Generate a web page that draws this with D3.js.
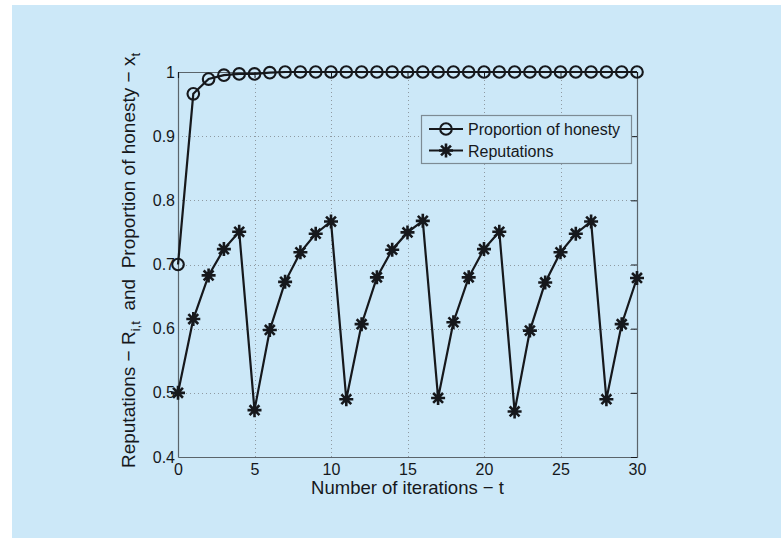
<!DOCTYPE html>
<html>
<head>
<meta charset="utf-8">
<script src="https://cdn.jsdelivr.net/npm/d3@7"></script>
<style>
  body { margin: 0; background: #fff; }
  svg { display: block; font-family: "Liberation Sans", Arial, sans-serif; }
</style>
</head>
<body>
<div id="chart"></div>
<script>
// --- data ---
const iterations = d3.range(0, 31)
const honesty = [0.700, 0.966, 0.989, 0.995, 0.997, 0.997, 0.999, 1, 1, 1, 1,
  1, 1, 1, 1, 1, 1, 1, 1, 1, 1, 1, 1, 1, 1, 1, 1, 1, 1, 1, 1]
const reputations = [0.500, 0.615, 0.683, 0.724, 0.751, 0.473, 0.598, 0.673, 0.719, 0.748, 0.767,
  0.490, 0.607, 0.680, 0.723, 0.750, 0.768, 0.492, 0.610, 0.680, 0.724,
  0.751, 0.471, 0.597, 0.672, 0.719, 0.748, 0.767, 0.490, 0.607, 0.679]
const xTicks = [0, 5, 10, 15, 20, 25, 30]
const yTicks = [0.4, 0.5, 0.6, 0.7, 0.8, 0.9, 1]
const legendLabels = ['Proportion of honesty', 'Reputations']

const width = 781
const height = 538
const margin = {left: 178, right: 144, top: 72, bottom: 81}
const ink = '#16181c'
const axisColor = '#5a646b'
const bg = '#cce8f8'

const svg = d3.select('#chart').append('svg')
  .attr('width', width)
  .attr('height', height)

svg.append('rect')
  .attr('x', 12).attr('y', 5)
  .attr('width', width - 12).attr('height', height - 5)
  .attr('fill', bg)

const x = d3.scaleLinear().domain([0, 30]).range([margin.left, width - margin.right])
const y = d3.scaleLinear().domain([0.4, 1]).range([height - margin.bottom, margin.top])

// --- grid ---
const grid = svg.append('g')
  .attr('stroke', '#8f9aa2')
  .attr('stroke-width', 1)
  .attr('stroke-dasharray', '1,3')
grid.selectAll('.gx').data(xTicks.slice(1, -1)).join('line')
  .attr('x1', d => Math.round(x(d)) + 0.5).attr('x2', d => Math.round(x(d)) + 0.5)
  .attr('y1', y(0.4)).attr('y2', y(1))
grid.selectAll('.gy').data(yTicks.slice(1, -1)).join('line')
  .attr('y1', d => Math.round(y(d)) + 0.5).attr('y2', d => Math.round(y(d)) + 0.5)
  .attr('x1', x(0)).attr('x2', x(30))

// --- axes ---
const xAxis = svg.append('g')
  .attr('transform', `translate(0,${y(0.4)})`)
  .call(d3.axisBottom(x).tickValues(xTicks).tickSize(0).tickPadding(7))
const yAxis = svg.append('g')
  .attr('transform', `translate(${x(0)},0)`)
  .call(d3.axisLeft(y).tickValues(yTicks).tickFormat(d3.format('~g')).tickSize(0).tickPadding(3))
const yAxisR = svg.append('g')
  .attr('transform', `translate(${x(30)},0)`)
  .call(d3.axisRight(y).tickValues(yTicks).tickSize(-6).tickFormat(''))
const xAxisT = svg.append('g')
  .attr('transform', `translate(0,${y(1)})`)
  .call(d3.axisTop(x).tickValues(xTicks).tickSize(-6).tickFormat(''))

;[xAxis, yAxis, yAxisR, xAxisT].forEach(g => {
  g.attr('font-size', 16).attr('font-family', '"Liberation Sans", Arial, sans-serif')
  g.select('.domain').attr('stroke', axisColor).attr('stroke-width', 1.2)
  g.selectAll('.tick line').attr('stroke', ink)
  g.selectAll('text').attr('fill', ink)
})

// --- axis labels ---
svg.append('text')
  .attr('x', x(15)).attr('y', 494)
  .attr('text-anchor', 'middle')
  .attr('font-size', 18.5)
  .attr('fill', ink)
  .text('Number of iterations \u2212 t')

const ylab = svg.append('text')
  .attr('transform', `translate(135,${(y(0.4) + y(1)) / 2 - 4}) rotate(-90)`)
  .attr('text-anchor', 'middle')
  .attr('font-size', 19)
  .attr('fill', ink)
ylab.append('tspan').text('Reputations \u2212 R')
ylab.append('tspan').attr('font-size', 13).attr('dy', 5).text('i,t')
ylab.append('tspan').attr('dy', -5).text('\u00a0 and \u00a0Proportion of honesty \u2212 x')
ylab.append('tspan').attr('font-size', 13).attr('dy', 5).text('t')

// --- series ---
const line = d3.line().x((d, i) => x(iterations[i])).y(d => y(d))

svg.append('path').datum(reputations)
  .attr('d', line).attr('fill', 'none')
  .attr('stroke', ink).attr('stroke-width', 2.2)
svg.append('path').datum(honesty)
  .attr('d', line).attr('fill', 'none')
  .attr('stroke', ink).attr('stroke-width', 2.2)

function star(g, r) {
  const p = []
  for (let k = 0; k < 4; k++) {
    const a = k * Math.PI / 4
    p.push(`M${-r * Math.cos(a)},${-r * Math.sin(a)}L${r * Math.cos(a)},${r * Math.sin(a)}`)
  }
  g.append('path').attr('d', p.join('')).attr('stroke', ink).attr('stroke-width', 2.6)
    .attr('stroke-linecap', 'butt')
}

svg.append('g').selectAll('g').data(reputations).join('g')
  .attr('transform', (d, i) => `translate(${x(iterations[i])},${y(d)})`)
  .each(function() { star(d3.select(this), 7) })

svg.append('g').selectAll('circle').data(honesty).join('circle')
  .attr('cx', (d, i) => x(iterations[i])).attr('cy', d => y(d))
  .attr('r', 5.8)
  .attr('fill', 'none').attr('stroke', ink).attr('stroke-width', 2.1)

// --- legend ---
const legend = svg.append('g').attr('transform', 'translate(421,115)')
legend.append('rect')
  .attr('x', 0.5).attr('y', 0.5).attr('width', 210).attr('height', 48)
  .attr('fill', bg).attr('stroke', '#7d8b94').attr('stroke-width', 1.2)
legendLabels.forEach((lab, i) => {
  const ly = 14 + i * 21.5
  legend.append('line').attr('x1', 8).attr('x2', 42).attr('y1', ly).attr('y2', ly)
    .attr('stroke', ink).attr('stroke-width', 2.2)
  if (i === 0) {
    legend.append('circle').attr('cx', 25).attr('cy', ly).attr('r', 5.8)
      .attr('fill', 'none').attr('stroke', ink).attr('stroke-width', 2.1)
  } else {
    star(legend.append('g').attr('transform', `translate(25,${ly})`), 7)
  }
  legend.append('text').attr('x', 47).attr('y', ly + 6)
    .attr('font-size', 16).attr('fill', ink).text(lab)
})
</script>
</body>
</html>
